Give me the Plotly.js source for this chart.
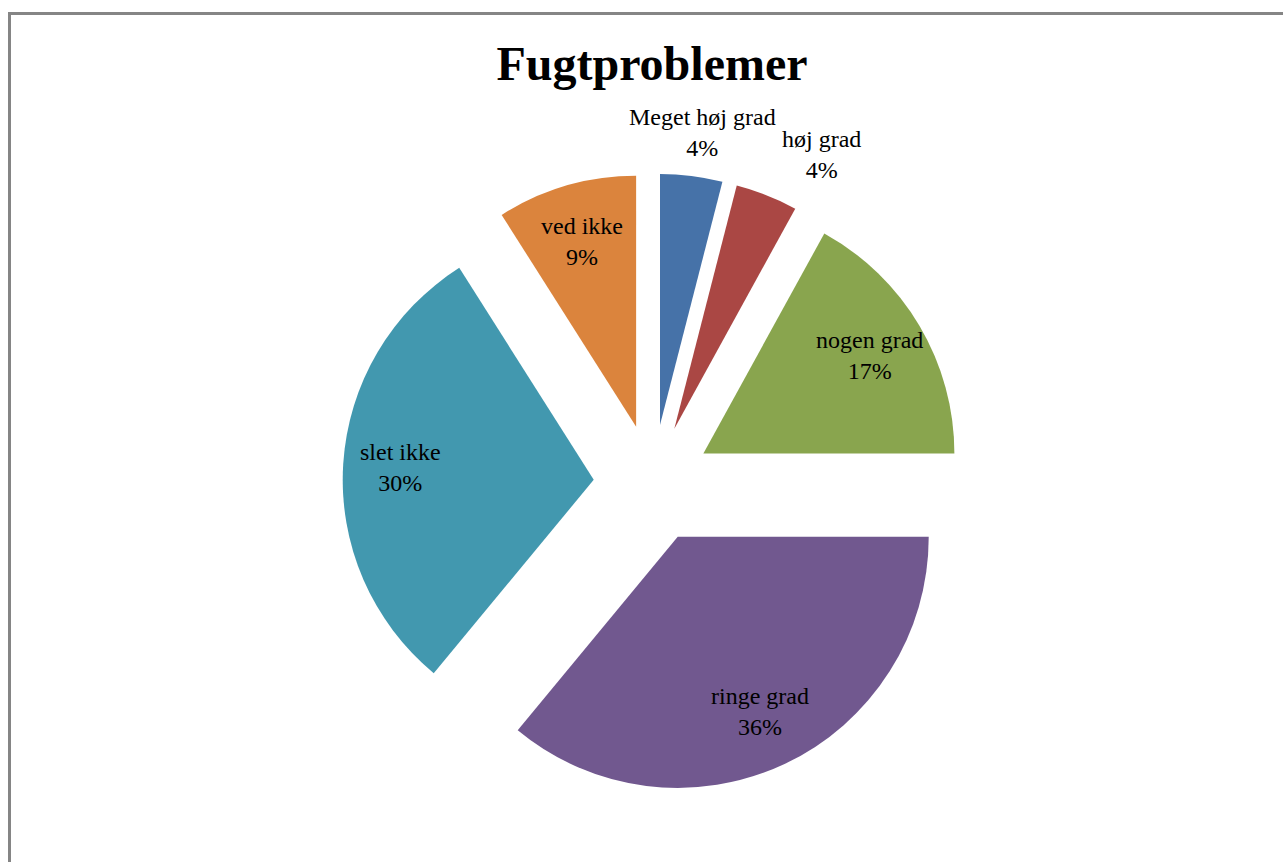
<!DOCTYPE html>
<html>
<head>
<meta charset="utf-8">
<script src="https://cdn.plot.ly/plotly-3.0.1.min.js"></script>
<style>html,body{margin:0;padding:0;background:#fff;} #chart{width:1283px;height:862px;}</style>
</head>
<body>
<div id="chart"></div>
<script>
const categories = ["Meget høj grad", "høj grad", "nogen grad", "ringe grad", "slet ikke", "ved ikke"];
const shares = [4, 4, 17, 36, 30, 9];
const sliceColors = ["#4672A8", "#AA4744", "#89A54E", "#71588F", "#4298AF", "#DB843D"];
const labelPositions = ["outside", "outside", "inside", "inside", "inside", "inside"];

const W = 1283, H = 862;
const PULL = 0.235;
const DOM = { x0: 342.6, x1: 962.6, y0: 173.5, y1: 793.5 };   // pie domain in px
const FONT = "Liberation Serif, Times New Roman, serif";
const FS = 24, LINE_H = 30;

// pie geometry (same rule Plotly uses to fit pulled slices in the domain)
const cx = (DOM.x0 + DOM.x1) / 2, cy = (DOM.y0 + DOM.y1) / 2;
const R = (DOM.x1 - DOM.x0) / 2 / (1 + PULL);
const total = shares.reduce((a, b) => a + b, 0);

const ctx = document.createElement("canvas").getContext("2d");
ctx.font = FS + "px 'Liberation Serif'";

const annotations = [];
let cum = 0, prevBox = null;
categories.forEach((cat, i) => {
  const v = shares[i];
  const mid = (cum + v / 2) / total * 2 * Math.PI;
  cum += v;
  const dx = Math.sin(mid), dy = -Math.cos(mid);
  const ax = cx + PULL * R * dx, ay = cy + PULL * R * dy;
  const pct = Math.round(v / total * 100) + "%";
  const lines = [cat, pct];
  let lx, ly;
  if (labelPositions[i] === "inside") {
    lx = ax + 0.77 * R * dx; ly = ay + 0.77 * R * dy;
  } else {
    const hw = Math.max(...lines.map(t => ctx.measureText(t).width)) / 2;
    const hh = lines.length * LINE_H / 2;
    const gap = 14;
    lx = ax + (R + gap) * dx + hw * dx;
    ly = ay + (R + gap) * dy + hh * dy;
    let box = { l: lx - hw, r: lx + hw, t: ly - hh, b: ly + hh };
    if (prevBox && box.l < prevBox.r && box.r > prevBox.l && box.t < prevBox.b && box.b > prevBox.t) {
      const shift = prevBox.r + 6 - box.l;
      lx += shift; box.l += shift; box.r += shift;
    }
    prevBox = box;
  }
  annotations.push({
    xref: "paper", yref: "paper", x: lx / W, y: 1 - ly / H,
    xanchor: "center", yanchor: "middle", align: "center", showarrow: false,
    text: lines.join("<br>"),
    font: { family: FONT, size: FS, color: "#000" }
  });
});

const data = [{
  type: "pie",
  labels: categories,
  values: shares,
  sort: false,
  direction: "clockwise",
  rotation: 0,
  pull: categories.map(() => PULL),
  marker: { colors: sliceColors, line: { width: 0 } },
  textinfo: "none",
  hoverinfo: "label+percent",
  showlegend: false,
  domain: { x: [DOM.x0 / W, DOM.x1 / W], y: [1 - DOM.y1 / H, 1 - DOM.y0 / H] }
}];

const layout = {
  width: W, height: H,
  margin: { l: 0, r: 0, t: 0, b: 0 },
  paper_bgcolor: "#fff",
  title: {
    text: "<b>Fugtproblemer</b>",
    font: { family: FONT, size: 48, color: "#000" },
    x: 652 / W, xanchor: "center",
    y: 1 - 63 / H, yanchor: "middle"
  },
  annotations: annotations,
  shapes: [{
    type: "rect", xref: "paper", yref: "paper",
    x0: 9.5 / W, x1: 1.2, y0: -0.2, y1: 1 - 13.5 / H,
    line: { color: "#858585", width: 3 }, fillcolor: "rgba(0,0,0,0)"
  }]
};

Plotly.newPlot("chart", data, layout, { displayModeBar: false, staticPlot: true });
</script>
</body>
</html>
